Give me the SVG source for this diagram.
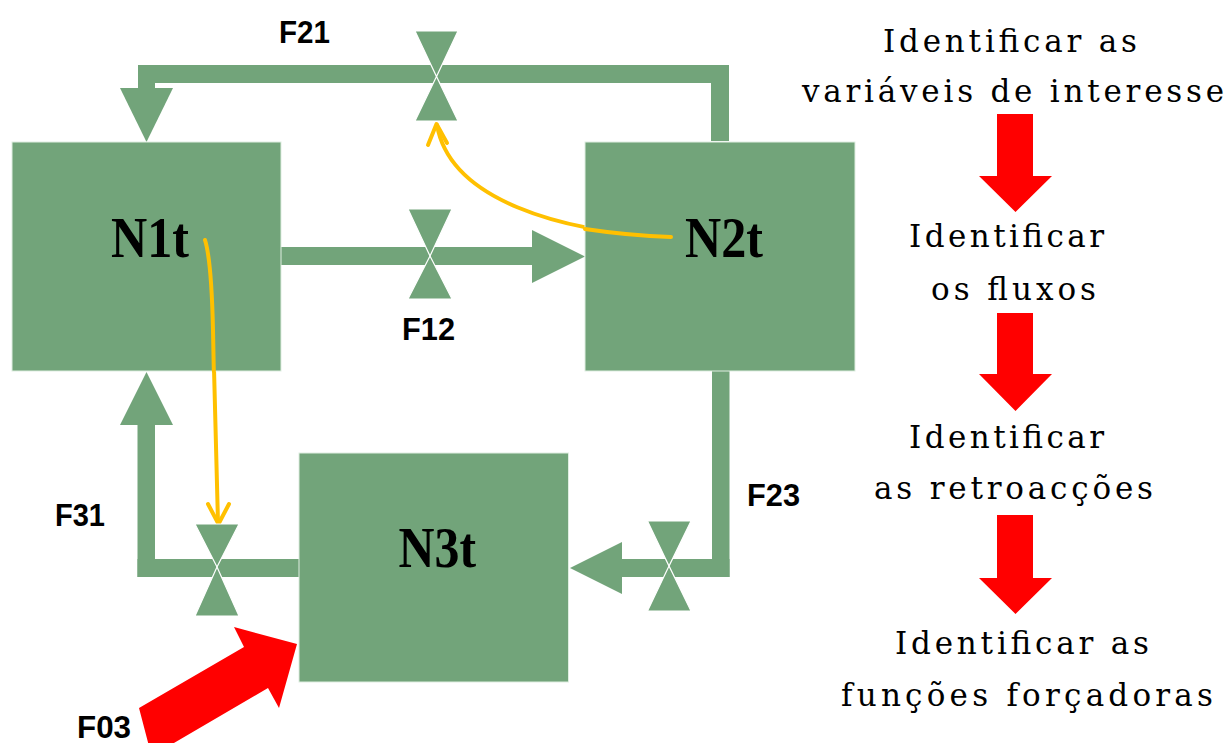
<svg xmlns="http://www.w3.org/2000/svg" width="1229" height="743" viewBox="0 0 1229 743">
<style>
.g{fill:#72A47A}
.valve{fill:#72A47A;stroke:#ffffff;stroke-width:1.2}
.box{fill:#72A47A;stroke:#dfeee1;stroke-width:1}
.nl{font-family:"Liberation Serif","Times New Roman",serif;font-weight:bold;font-size:56px;fill:#000}
.fl{font-family:"Liberation Sans",Arial,sans-serif;font-weight:bold;font-size:32px;fill:#000}
.st{font-family:"DejaVu Serif","Liberation Serif",serif;font-size:31px;fill:#000}
.red{fill:#FF0000}
.yel{fill:none;stroke:#FFC000;stroke-width:4;stroke-linecap:round;stroke-linejoin:round}
</style>
<rect width="1229" height="743" fill="#ffffff"/>
<g id="steps">
  <g id="step1">
    <text class="st" x="883" y="52" textLength="254" lengthAdjust="spacing">Identificar as</text>
    <text class="st" x="802" y="102" textLength="422" lengthAdjust="spacing">variáveis de interesse</text>
  </g>
  <g id="step2">
    <text class="st" x="909" y="247" textLength="195" lengthAdjust="spacing">Identificar</text>
    <text class="st" x="931" y="300" textLength="165" lengthAdjust="spacing">os fluxos</text>
  </g>
  <g id="step3">
    <text class="st" x="909" y="448" textLength="195" lengthAdjust="spacing">Identificar</text>
    <text class="st" x="874" y="499" textLength="279" lengthAdjust="spacing">as retroacções</text>
  </g>
  <g id="step4">
    <text class="st" x="895" y="654" textLength="254" lengthAdjust="spacing">Identificar as</text>
    <text class="st" x="841" y="706" textLength="372" lengthAdjust="spacing">funções forçadoras</text>
  </g>
  <polygon id="arrow-1" class="red" points="997,114 1033,114 1033,176 1052,176 1015.5,212 979,176 997,176"/>
  <polygon id="arrow-2" class="red" points="997,313 1033,313 1033,374 1052,374 1015.5,411 979,374 997,374"/>
  <polygon id="arrow-3" class="red" points="997,515 1033,515 1033,578 1052,578 1015.5,614 979,578 997,578"/>
</g>
<g id="connectors">
  <g id="pipe-F21">
    <rect class="g" x="138" y="65" width="591" height="18"/>
    <rect class="g" x="138" y="65" width="17" height="24"/>
    <rect class="g" x="711" y="65" width="18" height="76"/>
    <polygon class="g" points="120,88 173,88 146.5,142"/>
  </g>
  <g id="pipe-F12">
    <rect class="g" x="281" y="247" width="251" height="18"/>
    <polygon class="g" points="532,230 532,283 585,256.5"/>
  </g>
  <g id="pipe-F31">
    <rect class="g" x="137.5" y="424" width="17.5" height="153"/>
    <rect class="g" x="137.5" y="559" width="161.5" height="18"/>
    <polygon class="g" points="120,425 173,425 146.5,372"/>
  </g>
  <g id="pipe-F23">
    <rect class="g" x="712" y="371" width="17.5" height="206"/>
    <rect class="g" x="621" y="559" width="108.5" height="18"/>
    <polygon class="g" points="622,542 622,594 570,568"/>
  </g>
  <g id="F03-arrow">
    <polygon class="red" points="139,708 244,647 234,627 297,644 279,708 268,688 162,750 150,750"/>
  </g>
  <g id="feedback-N2-F21">
    <path class="yel" d="M671,237 C560,232 450,200 437,125"/>
    <polyline class="yel" points="428,145 436.5,124 447,143"/>
  </g>
  <g id="feedback-N1-F31">
    <path class="yel" d="M205,240 C210,256 212,285 213,330 L218,523"/>
    <polyline class="yel" points="208,504 218.5,524 229,504"/>
  </g>
</g>
<g id="valve-F21">
  <polygon class="valve" points="415,31 458,31 436.5,76.5"/>
  <polygon class="valve" points="436.5,76.5 415,121 458,121"/>
</g>
<g id="valve-F12">
  <polygon class="valve" points="408,209 452,209 430,256"/>
  <polygon class="valve" points="430,256 408,299 452,299"/>
</g>
<g id="valve-F31">
  <polygon class="valve" points="195,524 239,524 217,567"/>
  <polygon class="valve" points="217,567 195,616 239,616"/>
</g>
<g id="valve-F23">
  <polygon class="valve" points="647.5,521 691,521 669,566"/>
  <polygon class="valve" points="669,566 647.5,611 691,611"/>
</g>
<g id="node-N1t">
  <rect class="box" x="12" y="142" width="269" height="229"/>
  <text class="nl" x="111" y="257" textLength="78" lengthAdjust="spacingAndGlyphs">N1t</text>
</g>
<g id="node-N2t">
  <rect class="box" x="585" y="142" width="270" height="229"/>
  <text class="nl" x="685" y="257" textLength="78" lengthAdjust="spacingAndGlyphs">N2t</text>
</g>
<g id="node-N3t">
  <rect class="box" x="299" y="453" width="269.5" height="229"/>
  <text class="nl" x="398.5" y="567" textLength="77.5" lengthAdjust="spacingAndGlyphs">N3t</text>
</g>
<g id="feedback-overlay">
  <path class="yel" d="M671,237 C640,236 605,232 585,229"/>
  <path class="yel" d="M205,240 C210,256 212,285 213,330 L213.8,371"/>
</g>
<g id="labels">
  <text class="fl" x="279" y="43" textLength="51" lengthAdjust="spacingAndGlyphs">F21</text>
  <text class="fl" x="402" y="340" textLength="53" lengthAdjust="spacingAndGlyphs">F12</text>
  <text class="fl" x="55" y="525.5" textLength="50" lengthAdjust="spacingAndGlyphs">F31</text>
  <text class="fl" x="747" y="505.5" textLength="53" lengthAdjust="spacingAndGlyphs">F23</text>
  <text class="fl" x="77" y="738" textLength="54" lengthAdjust="spacingAndGlyphs">F03</text>
</g>
</svg>
